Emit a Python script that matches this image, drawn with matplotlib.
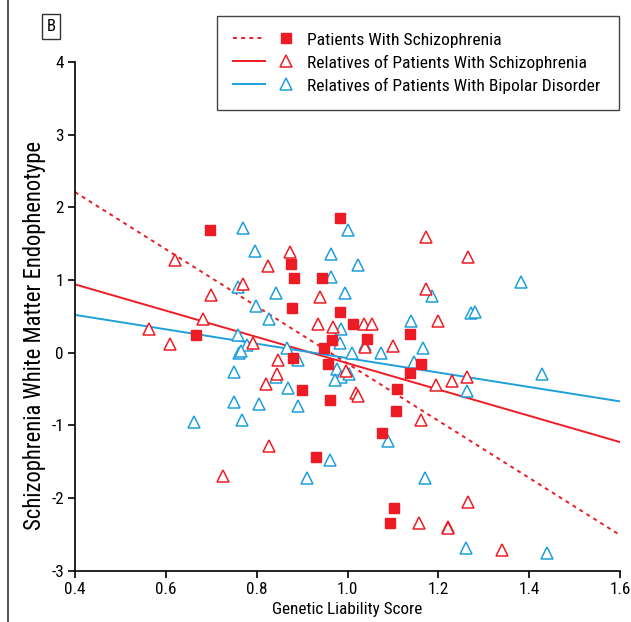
import matplotlib
matplotlib.use('Agg')
import matplotlib.pyplot as plt
from matplotlib import font_manager
from matplotlib.lines import Line2D
from matplotlib.legend_handler import HandlerTuple

# pick a condensed sans face, the original uses a narrow Helvetica-like font
have = set(f.name for f in font_manager.fontManager.ttflist)
font = 'DejaVu Sans'
for cand in ['Roboto Condensed', 'Liberation Sans Narrow', 'Archivo Narrow',
             'PT Sans Narrow', 'Fira Sans Condensed', 'Encode Sans Condensed',
             'IBM Plex Sans Condensed', 'Open Sans Condensed', 'Roboto']:
    if cand in have:
        font = cand
        break
plt.rcParams['font.family'] = [font, 'DejaVu Sans']
plt.rcParams['axes.unicode_minus'] = False

RED = '#ED1C24'
BLUE = '#1E9FDB'

# patients with schizophrenia (filled squares)
pat_x = [0.697, 0.667, 0.984, 0.876, 0.883, 0.944, 0.878, 0.983, 1.013, 1.042,
         0.966, 0.948, 1.138, 0.879, 0.957, 1.161, 1.138, 0.899, 1.108, 0.962,
         1.107, 1.077, 0.931, 1.102, 1.093]
pat_y = [1.69, 0.24, 1.85, 1.22, 1.03, 1.03, 0.61, 0.56, 0.40, 0.19,
         0.17, 0.06, 0.26, -0.08, -0.15, -0.16, -0.28, -0.52, -0.50, -0.65,
         -0.80, -1.10, -1.43, -2.14, -2.35]

# relatives of patients with schizophrenia (open red triangles)
rs_x = [0.620, 0.771, 0.700, 0.681, 0.562, 0.610, 0.793, 0.824, 0.848, 0.845,
        0.820, 0.874, 1.172, 1.172, 0.940, 0.935, 0.968, 1.036, 1.054, 1.199,
        1.100, 1.039, 0.997, 1.018, 1.023, 1.194, 1.231, 1.265, 1.263, 0.828,
        0.725, 1.162, 1.157, 1.222, 1.265, 1.221, 1.341]
rs_y = [1.27, 0.95, 0.80, 0.47, 0.33, 0.12, 0.14, 1.19, -0.10, -0.29,
        -0.43, 1.38, 1.59, 0.87, 0.76, 0.39, 0.36, 0.40, 0.40, 0.43,
        0.09, 0.08, -0.25, -0.56, -0.60, -0.45, -0.39, 1.31, -0.33, -1.28,
        -1.69, -0.93, -2.35, -2.40, -2.06, -2.41, -2.71]

# relatives of patients with bipolar disorder (open blue triangles)
rb_x = [0.769, 0.797, 0.760, 0.843, 0.798, 0.827, 0.759, 0.778, 0.762, 0.765,
        0.751, 0.843, 1.001, 0.963, 1.024, 0.963, 0.995, 1.186, 0.985, 1.139,
        0.984, 1.039, 0.866, 0.890, 1.009, 1.073, 1.166, 1.147, 0.977, 0.985,
        0.972, 1.003, 0.870, 1.381, 1.271, 1.280, 1.429, 1.264, 0.661, 0.751,
        0.806, 0.767, 0.890, 1.089, 0.961, 0.911, 1.170, 1.262, 1.440]
rb_y = [1.72, 1.40, 0.91, 0.82, 0.64, 0.47, 0.25, 0.10, 0.00, 0.02,
        -0.27, -0.34, 1.69, 1.36, 1.20, 1.04, 0.82, 0.78, 0.33, 0.43,
        0.13, 0.10, 0.06, -0.10, -0.01, -0.01, 0.06, -0.13, -0.22, -0.33,
        -0.37, -0.29, -0.48, 0.97, 0.55, 0.56, -0.29, -0.53, -0.96, -0.68,
        -0.70, -0.93, -0.73, -1.22, -1.48, -1.72, -1.72, -2.69, -2.75]

# regression lines, value at each end of the x range
fit_x = [0.4, 1.6]
pat_fit = [2.21, -2.51]
rs_fit = [0.94, -1.23]
rb_fit = [0.52, -0.67]

labels = ['Patients With Schizophrenia',
          'Relatives of Patients With Schizophrenia',
          'Relatives of Patients With Bipolar Disorder']

fig = plt.figure(figsize=(6.31, 6.22), dpi=100)
ax = fig.add_axes([75/631, 1-570.7/622, 545/631, 508.7/622])

l1, = ax.plot(fit_x, pat_fit, color=RED, lw=1.4, ls=(0, (2, 2.2)))
l2, = ax.plot(fit_x, rs_fit, color=RED, lw=1.4)
l3, = ax.plot(fit_x, rb_fit, color=BLUE, lw=1.4)

m3, = ax.plot(rb_x, rb_y, ls='none', marker='^', ms=9, mfc='white',
              mec=BLUE, mew=1.1)
m2, = ax.plot(rs_x, rs_y, ls='none', marker='^', ms=9, mfc='white',
              mec=RED, mew=1.1)
m1, = ax.plot(pat_x, pat_y, ls='none', marker='s', ms=7.8, color=RED)

ax.set_xlim(0.4, 1.6)
ax.set_ylim(-3, 4)
ax.set_xticks([0.4, 0.6, 0.8, 1.0, 1.2, 1.4, 1.6])
ax.set_yticks(range(-3, 5))
ax.spines['top'].set_visible(False)
ax.spines['right'].set_visible(False)
for s in ['left', 'bottom']:
    ax.spines[s].set_linewidth(1.2)
ax.tick_params(direction='out', length=5, width=1.2, labelsize=12.3, pad=3)
ax.set_xlabel('Genetic Liability Score', fontsize=12.3, labelpad=4)
ax.set_ylabel('Schizophrenia White Matter Endophenotype', fontsize=16.3)
ax.yaxis.set_label_coords(-0.053, 0.462)

leg = fig.legend([(l1, m1), (l2, m2), (l3, m3)], labels,
                 handler_map={tuple: HandlerTuple(ndivide=None, pad=0.3)},
                 loc='upper left',
                 bbox_to_anchor=(216.7/631, 1-15.7/622-0.01, 402/631, 0.01),
                 mode='expand', bbox_transform=fig.transFigure,
                 fancybox=False, edgecolor='#444444', framealpha=1,
                 fontsize=12.6, handlelength=3.9, handletextpad=0.3,
                 labelspacing=0.4, borderpad=0.95, borderaxespad=0)
leg.get_frame().set_linewidth(1.0)

fig.text(51/631, 1-26.5/622, 'B', fontsize=12, ha='center', va='center',
         bbox=dict(boxstyle='square,pad=0.28', fc='white', ec='#333333', lw=1))

fig.add_artist(Line2D([8/631, 8/631], [0, 1], color='#333333', lw=1.2))

fig.savefig('out.png', dpi=100)
